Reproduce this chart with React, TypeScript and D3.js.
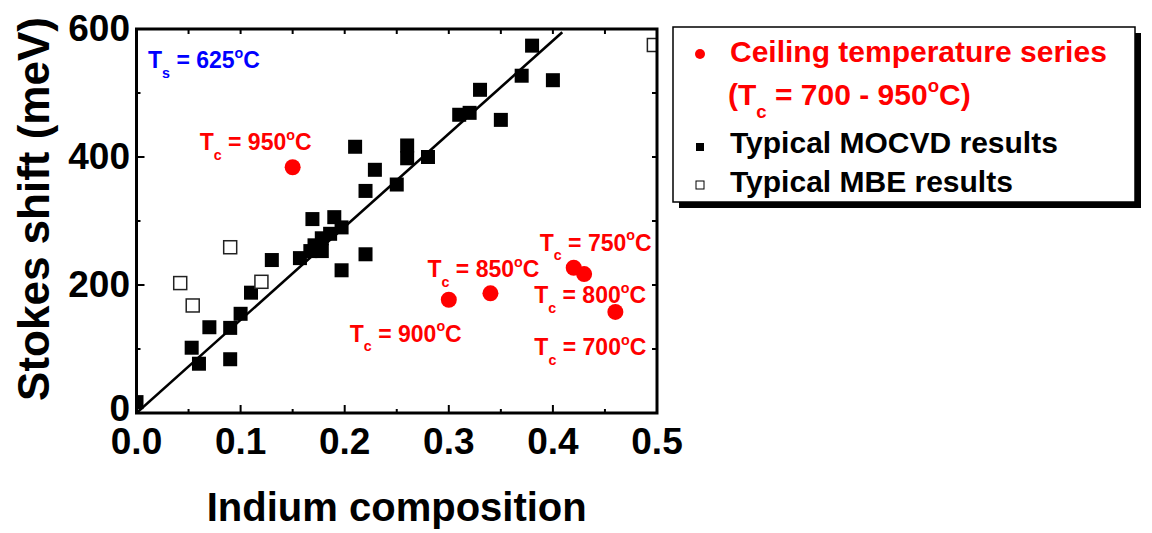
import React from "react";
import * as d3 from "d3";

// Typical MOCVD results (filled squares)
const mocvdX = [0.0, 0.053, 0.06, 0.07, 0.09, 0.09, 0.1, 0.11, 0.13, 0.157, 0.167, 0.171, 0.178, 0.178, 0.186, 0.19, 0.197, 0.169, 0.197, 0.21, 0.22, 0.22, 0.229, 0.25, 0.26, 0.26, 0.28, 0.31, 0.32, 0.33, 0.35, 0.37, 0.38, 0.4];
const mocvdY = [17, 102, 77, 134, 133, 84, 155, 188, 239, 242, 253, 262, 273, 253, 280, 306, 290, 303, 223, 416, 248, 347, 380, 357, 418, 398, 400, 466, 469, 505, 458, 527, 574, 520];

// Typical MBE results (open squares)
const mbeX = [0.042, 0.054, 0.09, 0.12, 0.497];
const mbeY = [203, 168, 259, 205, 575];

// Ceiling temperature series (red circles)
const ceilX = [0.15, 0.3, 0.34, 0.42, 0.43, 0.46];
const ceilY = [384, 177, 187, 227, 217, 158];
const ceilTemp = [950, 900, 850, 750, 800, 700];
// label offsets (px) from each circle
const ceilLabelDx = [-93, -99, -63, -34, -50, -81];
const ceilLabelDy = [-17, 42, -16, -17, 29, 43];

// Linear fit
const fitX = [0, 0.409];
const fitY = [0, 595];

const xTicks = [0, 0.1, 0.2, 0.3, 0.4, 0.5];
const xMinor = [0.05, 0.15, 0.25, 0.35, 0.45];
const yTicks = [0, 200, 400, 600];
const yMinor = [100, 300, 500];

const FONT = '"Liberation Sans", Arial, Helvetica, sans-serif';
const RED = "#ff0000";
const BLUE = "#0000ff";

function TLabel({ x, y, sub, value, size, color, prefix = "", suffix = "" }) {
  const s = size * 0.62;
  const subDy = size * 0.42;
  const supDy = -size * 0.45;
  return (
    <text x={x} y={y} fontSize={size} fill={color} fontWeight="bold" fontFamily={FONT} style={{ whiteSpace: "pre" }}>
      {prefix}T
      <tspan fontSize={s} dy={subDy}>{sub}</tspan>
      <tspan dy={-subDy}>{` = ${value}`}</tspan>
      <tspan fontSize={s} dy={supDy}>o</tspan>
      <tspan dy={-supDy}>{`C${suffix}`}</tspan>
    </text>
  );
}

export default function App() {
  const W = 1152, H = 533;
  const x = d3.scaleLinear().domain([0, 0.5]).range([136.5, 657]);
  const y = d3.scaleLinear().domain([0, 600]).range([413, 29]);
  const [x0, x1] = x.range();
  const [y0, y1] = y.range();

  const fitPath = d3.line<number>().x((_, i) => x(fitX[i])).y((_, i) => y(fitY[i]))(fitX as any);

  const sq = 14;
  const mbeSq = 13;

  return (
    <svg width={W} height={H} style={{ position: "fixed", left: 0, top: 0, background: "#fff" }}>
      <defs>
        <clipPath id="plotClip">
          <rect x={x0} y={y1} width={x1 - x0} height={y0 - y1} />
        </clipPath>
      </defs>

      {/* fit line */}
      <path d={fitPath || ""} stroke="#000" strokeWidth={2.6} fill="none" clipPath="url(#plotClip)" />

      <g clipPath="url(#plotClip)">
        {mocvdX.map((v, i) => (
          <rect key={"m" + i} x={x(v) - sq / 2} y={y(mocvdY[i]) - sq / 2} width={sq} height={sq} fill="#000" />
        ))}
        {mbeX.map((v, i) => (
          <rect key={"b" + i} x={x(v) - mbeSq / 2} y={y(mbeY[i]) - mbeSq / 2} width={mbeSq} height={mbeSq} fill="#fff" stroke="#222" strokeWidth={1.5} />
        ))}
        {ceilX.map((v, i) => (
          <circle key={"c" + i} cx={x(v)} cy={y(ceilY[i])} r={8} fill={RED} />
        ))}
      </g>

      {/* ceiling temperature annotations */}
      {ceilX.map((v, i) => (
        <TLabel key={"l" + i} x={x(v) + ceilLabelDx[i]} y={y(ceilY[i]) + ceilLabelDy[i]} sub="c" value={String(ceilTemp[i])} size={23} color={RED} />
      ))}
      <TLabel x={148} y={68} sub="s" value="625" size={23} color={BLUE} />

      {/* frame */}
      <rect x={x0} y={y1} width={x1 - x0} height={y0 - y1} fill="none" stroke="#000" strokeWidth={3} />

      {/* ticks */}
      <g stroke="#000" strokeWidth={2}>
        {xTicks.map((t) => (
          <g key={"xt" + t}>
            <line x1={x(t)} x2={x(t)} y1={y0} y2={y0 - 8} />
            <line x1={x(t)} x2={x(t)} y1={y1} y2={y1 + 5} />
          </g>
        ))}
        {xMinor.map((t) => (
          <g key={"xm" + t}>
            <line x1={x(t)} x2={x(t)} y1={y0} y2={y0 - 4} />
            <line x1={x(t)} x2={x(t)} y1={y1} y2={y1 + 5} />
          </g>
        ))}
        {yTicks.map((t) => (
          <g key={"yt" + t}>
            <line x1={x0} x2={x0 + 8} y1={y(t)} y2={y(t)} />
            <line x1={x1} x2={x1 - 5} y1={y(t)} y2={y(t)} />
          </g>
        ))}
        {yMinor.map((t) => (
          <g key={"ym" + t}>
            <line x1={x0} x2={x0 + 4} y1={y(t)} y2={y(t)} />
            <line x1={x1} x2={x1 - 5} y1={y(t)} y2={y(t)} />
          </g>
        ))}
      </g>

      {/* tick labels */}
      <g fontFamily={FONT} fontWeight="bold" fontSize={37} fill="#000">
        {xTicks.map((t) => (
          <text key={"xl" + t} x={x(t)} y={454} textAnchor="middle">{d3.format(".1f")(t)}</text>
        ))}
        {yTicks.map((t) => (
          <text key={"yl" + t} x={130} y={t === 0 ? y(t) + 8 : y(t) + 12} textAnchor="end">{t}</text>
        ))}
      </g>

      {/* axis titles */}
      <text x={(x0 + x1) / 2} y={521} textAnchor="middle" fontFamily={FONT} fontWeight="bold" fontSize={40}>Indium composition</text>
      <text transform="translate(49,209) rotate(-90)" textAnchor="middle" fontFamily={FONT} fontWeight="bold" fontSize={44}>Stokes shift (meV)</text>

      {/* legend */}
      <rect x={679} y={33} width={462} height={175} fill="#000" />
      <rect x={673} y={27} width={462} height={175} fill="#fff" stroke="#000" strokeWidth={1.5} />
      <circle cx={700} cy={54} r={5} fill={RED} />
      <text x={730} y={62} fontFamily={FONT} fontWeight="bold" fontSize={30} fill={RED}>Ceiling temperature series</text>
      <TLabel x={728} y={105} prefix="(" suffix=")" sub="c" value="700 - 950" size={30} color={RED} />
      <rect x={696} y={143} width={8} height={8} fill="#000" />
      <text x={730} y={153} fontFamily={FONT} fontWeight="bold" fontSize={30} fill="#000">Typical MOCVD results</text>
      <rect x={696} y={181} width={8} height={8} fill="#fff" stroke="#000" strokeWidth={1} />
      <text x={730} y={192} fontFamily={FONT} fontWeight="bold" fontSize={30} fill="#000">Typical MBE results</text>
    </svg>
  );
}
